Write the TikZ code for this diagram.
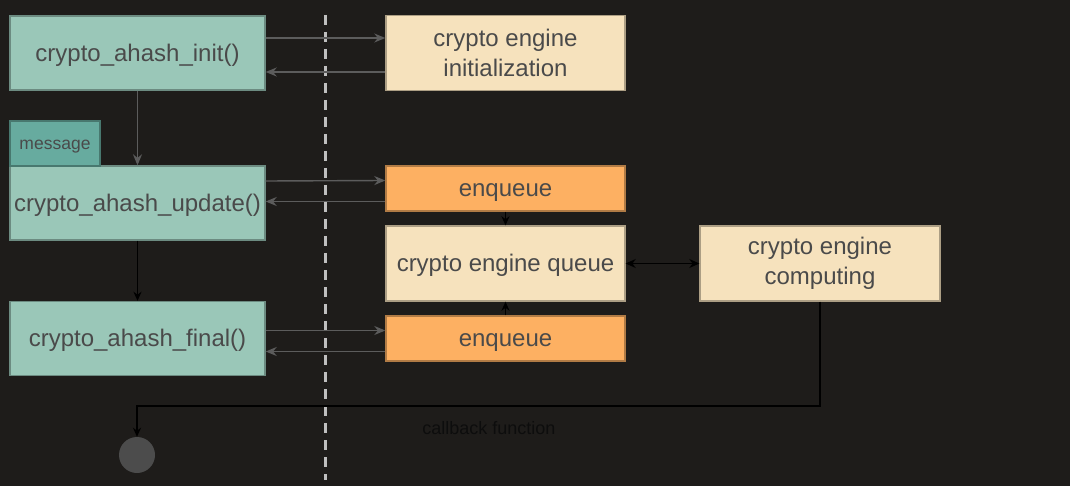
\documentclass[tikz,border=0pt]{standalone}
\usepackage{fontspec}
\setmainfont{Liberation Sans}
\usetikzlibrary{arrows.meta}

\definecolor{bgcol}{HTML}{1E1C1A}
\definecolor{tealfill}{HTML}{9AC7B8}
\definecolor{tealdark}{HTML}{67AB9F}
\definecolor{creamfill}{HTML}{F6E2BD}
\definecolor{orangefill}{HTML}{FDB062}
\definecolor{txtcol}{HTML}{4A4A4A}
\definecolor{arrcol}{HTML}{5C5C5C}

\begin{document}
\begin{tikzpicture}[x=1pt,y=-1pt,
    box/.style={draw=#1!70!black,line width=1.4pt,inner sep=0pt,align=center,
                text=txtcol,font=\fontsize{24}{30}\selectfont},
    oneline/.style={text height=21.7pt,text depth=5.1pt},
    call/.style={box=tealfill,fill=tealfill,oneline,minimum width=255pt,minimum height=74pt},
    engine/.style={box=creamfill,fill=creamfill,minimum width=239pt,minimum height=75pt},
    enq/.style={box=orangefill,fill=orangefill,oneline,minimum width=239pt,minimum height=45pt},
    garrow/.style={-{Stealth[length=11pt,width=9pt]},draw=arrcol,line width=1.4pt},
    barrow/.style={-{Stealth[length=9pt,width=8pt]},draw=black,line width=1.4pt}]
      \fill[bgcol] (0,0) rectangle (1070,486);
      \draw[white!75!black,line width=3pt,dash pattern=on 10pt off 7pt] (325,15) -- (325,480);

      % caller side
      \node[call]  (init) at (137.5,53)    {crypto\_ahash\_init()};
      \node[call]  (upd)  at (137.5,203)   {crypto\_ahash\_update()};
      \node[call]  (fin)  at (137.5,338.5) {crypto\_ahash\_final()};
      \node[box=tealdark,fill=tealdark,minimum width=90pt,minimum height=45pt,
            text height=15.8pt,text depth=3.7pt,
            font=\fontsize{17.5}{20}\selectfont] (msg) at (55,143.5) {message};
      \node[circle,fill=black!70,minimum size=36pt,inner sep=0pt] (done) at (137,455) {};

      % engine side
      \node[engine] (eng)   at (505.5,53)    {crypto engine\\initialization};
      \node[enq]    (enqa)  at (505.5,188.5) {enqueue};
      \node[engine,oneline] (queue) at (505.5,263.5) {crypto engine queue};
      \node[enq]    (enqb)  at (505.5,338.5) {enqueue};
      \node[engine,minimum width=240pt] (comp) at (820,263.5) {crypto engine\\computing};
      \node[text=black!95,text height=16.3pt,text depth=3.8pt,
            font=\fontsize{18}{20}\selectfont] (cbtext) at (489,428) {callback function};
      \coordinate (cbturn) at (820,406);

      \draw[garrow] ([yshift=15pt]init.east)  -- ([yshift=15pt]eng.west);
      \draw[garrow] ([yshift=-19pt]eng.west)  -- ([yshift=-19pt]init.east);
      \draw[garrow] (upd.east |- 0,181)       -- ([yshift=8pt]enqa.west);
      \draw[garrow] ([yshift=-13pt]enqa.west) -- (upd.east |- 0,201.5);
      \draw[garrow] (fin.east |- 0,330.5)     -- ([yshift=8pt]enqb.west);
      \draw[garrow] ([yshift=-13pt]enqb.west) -- (fin.east |- 0,351.5);
      \draw[garrow] (init.south) -- (upd.north);

      \draw[barrow] (upd.south)  -- (fin.north);
      \draw[barrow] (enqa.south) -- (queue.north);
      \draw[barrow] (enqb.north) -- (queue.south);
      \draw[barrow,{Stealth[length=10pt,width=9pt]}-{Stealth[length=10pt,width=9pt]}] (queue.east) -- (comp.west);
      \draw[barrow] (comp.south) -- (cbturn) -| (done.north);
\end{tikzpicture}
\end{document}
